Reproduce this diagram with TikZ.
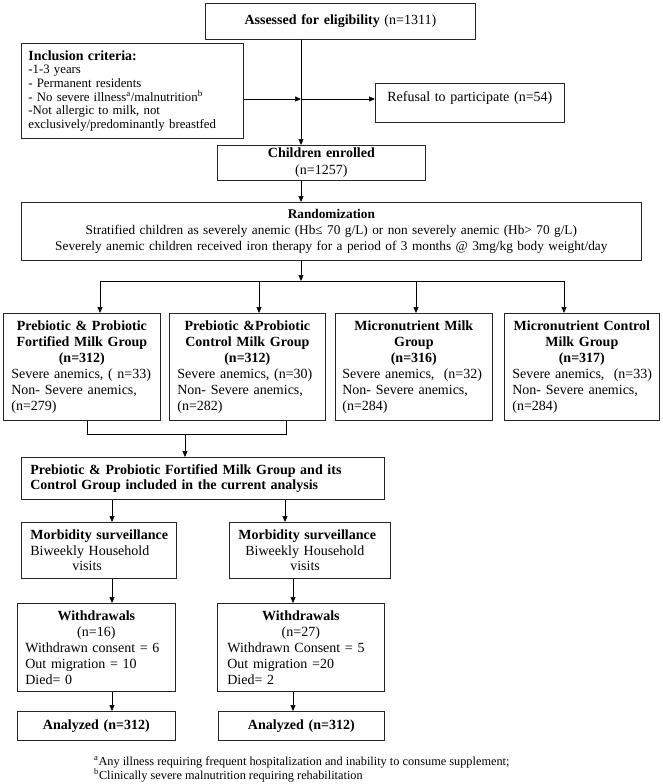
\documentclass[tikz,border=0pt]{standalone}
\usepackage{fontspec}
\setmainfont{Liberation Serif}
\usetikzlibrary{arrows.meta}
\hbadness=10000 \hfuzz=50pt
\begin{document}
\begin{tikzpicture}[x=1pt,y=-1pt,
  bx/.style={draw=black!85, line width=0.7pt, inner sep=0pt, anchor=north west, font=\fontsize{14}{16}\selectfont},
  grp/.style={bx, minimum height=107},
  arr/.style={-{Triangle[length=6pt,width=5pt]}, line width=0.7pt},
  ln/.style={line width=0.7pt}]
\useasboundingbox (0,0) rectangle (662,784);

% top
\node[bx, minimum width=270, minimum height=36, text width=270, align=center] (assess) at (205,3) {\textbf{Assessed for eligibility} (n=1311)};
\node[bx, minimum width=222, minimum height=95, text width=208, inner xsep=7, align=left, font=\fontsize{12.8}{13.6}\selectfont] (incl) at (21,43) {{\fontsize{14}{17}\selectfont\bfseries Inclusion criteria:}\\-1-3 years\\- Permanent residents\\- No severe illness\textsuperscript{a}/malnutrition\textsuperscript{b}\\-Not allergic to milk, not\\\mbox{exclusively/predominantly breastfed}};
\node[bx, minimum width=189, minimum height=39, text width=189, align=center] (refuse) at (375,83) {Refusal to participate (n=54)\\[-4pt]\mbox{}};
\node[bx, minimum width=208, minimum height=35, text width=208, align=center, font=\fontsize{14}{17}\selectfont] (child) at (217,145) {\textbf{Children enrolled}\\(n=1257)};
\node[bx, minimum width=620, minimum height=58, text width=620, align=center, font=\fontsize{13.3}{16}\selectfont] (rand) at (21,202) {\textbf{Randomization}\\Stratified children as severely anemic (Hb≤ 70 g/L) or non severely anemic (Hb> 70 g/L)\\Severely anemic children received iron therapy for a period of 3 months @ 3mg/kg body weight/day};

% groups
\node[grp, minimum width=157, text width=141, inner xsep=8] (g1) at (3,313) {\centering\textbf{Prebiotic \& Probiotic}\\\textbf{Fortified Milk Group}\\\textbf{(n=312)}\par\raggedright \mbox{Severe anemics, ( n=33)}\\\mbox{Non- Severe anemics,}\\(n=279)};
\node[grp, minimum width=156, text width=140, inner xsep=8] (g2) at (169,313) {\centering\textbf{Prebiotic \&Probiotic}\\\textbf{Control Milk Group}\\\textbf{(n=312)}\par\raggedright \mbox{Severe anemics, (n=30)}\\\mbox{Non- Severe anemics,}\\(n=282)};
\node[grp, minimum width=157, text width=143, inner xsep=7] (g3) at (335,313) {\centering\textbf{Micronutrient Milk}\\\textbf{Group}\\\textbf{(n=316)}\par\raggedright \mbox{Severe anemics,\ \ (n=32)}\\\mbox{Non- Severe anemics,}\\(n=284)};
\node[grp, minimum width=155, text width=139, inner xsep=8] (g4) at (504,313) {\centering\mbox{\textbf{Micronutrient Control}}\\\textbf{Milk Group}\\\textbf{(n=317)}\par\raggedright \mbox{Severe anemics,\ \ (n=33)}\\\mbox{Non- Severe anemics,}\\(n=284)};

% analysis
\node[bx, minimum width=363, minimum height=42, text width=345, inner xsep=9, align=left, font=\fontsize{14}{15.5}\selectfont\bfseries] (anal) at (21,457) {Prebiotic \& Probiotic Fortified Milk Group and its\\Control Group included in the current analysis};

\node[bx, minimum width=155, minimum height=56, text width=137, inner xsep=9, align=left, font=\fontsize{14}{15.5}\selectfont] (morb1) at (21,522) {\mbox{\textbf{Morbidity surveillance}}\\Biweekly Household\\\hspace*{42pt}visits};
\node[bx, minimum width=161, minimum height=56, text width=143, inner xsep=9, align=left, font=\fontsize{14}{15.5}\selectfont] (morb2) at (229,522) {\mbox{\textbf{Morbidity surveillance}}\\\hspace*{7pt}Biweekly Household\\\hspace*{52pt}visits};

\node[bx, minimum width=158, minimum height=88, text width=142, inner xsep=8] (w1) at (17,603) {\centering\textbf{Withdrawals}\\(n=16)\par\raggedright Withdrawn consent = 6\\Out migration = 10\\Died= 0};
\node[bx, minimum width=167, minimum height=88, text width=147, inner xsep=10] (w2) at (217,603) {\centering\textbf{Withdrawals}\\(n=27)\par\raggedright Withdrawn Consent = 5\\Out migration =20\\Died= 2};

\node[bx, minimum width=158, minimum height=29, text width=158, align=center] (an1) at (17,711) {\textbf{Analyzed (n=312)}};
\node[bx, minimum width=166, minimum height=29, text width=166, align=center] (an2) at (218,711) {\textbf{Analyzed (n=312)}};

\node[anchor=west, inner sep=0pt, align=left, font=\fontsize{12.3}{14}\selectfont] (fn) at (94,769) {\textsuperscript{a}Any illness requiring frequent hospitalization and inability to consume supplement;\\\textsuperscript{b}Clinically severe malnutrition requiring rehabilitation};

% connectors
\coordinate (j) at (301,99);
\draw[arr] (assess.south -| j) -- (child.north -| j);
\draw[arr] (j -| incl.east) -- (j);
\draw[arr] (j) -- (j -| refuse.west);
\draw[arr] (child.south -| j) -- (rand.north -| j);

\coordinate (b1) at (100,281);
\coordinate (b2) at (259,281);
\coordinate (b3) at (416,281);
\coordinate (b4) at (564,281);
\draw[ln] (b1) -- (b4);
\draw[arr] (rand.south -| j) -- (j |- b1);
\draw[arr] (b1) -- (b1 |- g1.north);
\draw[arr] (b2) -- (b2 |- g2.north);
\draw[arr] (b3) -- (b3 |- g3.north);
\draw[arr] (b4) -- (b4 |- g4.north);

\coordinate (m1) at (87,434);
\coordinate (m2) at (286,434);
\coordinate (mc) at (185,434);
\draw[ln] (g1.south -| m1) -- (m1) -- (m2) -- (g2.south -| m2);
\draw[arr] (mc) -- (mc |- anal.north);

\coordinate (c1) at (112,0);
\coordinate (c2) at (285,0);
\coordinate (c3) at (293,0);
\draw[arr] (anal.south -| c1) -- (morb1.north -| c1);
\draw[arr] (anal.south -| c2) -- (morb2.north -| c2);
\draw[arr] (morb1.south -| c1) -- (w1.north -| c1);
\draw[arr] (morb2.south -| c3) -- (w2.north -| c3);
\draw[arr] (w1.south -| c1) -- (an1.north -| c1);
\draw[arr] (w2.south -| c3) -- (an2.north -| c3);
\end{tikzpicture}
\end{document}
